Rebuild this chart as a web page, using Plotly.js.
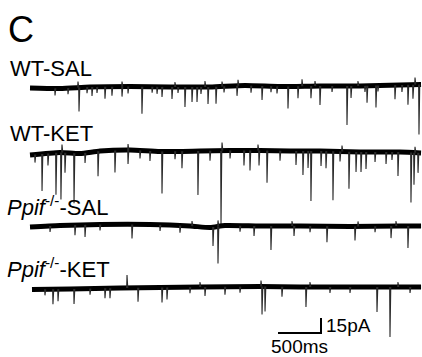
<!DOCTYPE html>
<html><head><meta charset="utf-8">
<script src="https://cdn.plot.ly/plotly-3.0.1.min.js"></script>
<style>html,body{margin:0;padding:0;background:#fff}#c{width:422px;height:357px}</style>
</head><body><div id="c"></div>
<script>
// ---- DATA ----
const panelLabel = "C";
const traceLabels = ["WT-SAL", "WT-KET", "<i>Ppif</i><sup>-/-</sup>-SAL", "<i>Ppif</i><sup>-/-</sup>-KET"];

// slow baseline drift knots: time (ms) and current (pA, + = up)
const wtSal_driftT  = [0, 349, 698, 1163, 1628, 2093, 2500, 2907, 3372, 3837, 4302, 4547];
const wtSal_driftI  = [0, -0.5, 1, 1.5, 1, 1, 2.5, 1.5, 2, 2, 3, 3.5];
const wtKet_driftT  = [0, 349, 581, 814, 1163, 1512, 1977, 2326, 2674, 3023, 3372, 3837, 4302, 4547];
const wtKet_driftI  = [-2, 0.5, -0.5, 2, 3, 1.5, 2, 2.5, 2.5, 2, 2, 1, 1, 0];
const koSal_driftT  = [0, 349, 814, 1395, 1860, 2093, 2267, 2674, 3140, 3721, 4302, 4547];
const koSal_driftI  = [-1, 0.5, 1.5, 1.5, 0, -1.5, 0.5, 0, 0, -0.5, 0, 0];
const koKet_driftT  = [23, 465, 1047, 1512, 1977, 2674, 3140, 3721, 4302, 4547];
const koKet_driftI  = [-1.5, -1, 0, 0.5, 1, 1.5, 1, 1, 1, 1];

// synaptic events: time (ms) and amplitude (pA, inward = positive, negative = upward deflection)
const wtSal_evT = [291, 442, 570, 663, 721, 779, 872, 953, 1070, 1140, 1302, 1420, 1477, 1535, 1651, 1721, 1802, 1884, 1942, 1988, 2070, 2163, 2256, 2407, 2570, 2698, 2802, 2872, 3000, 3116, 3267, 3372, 3512, 3686, 3733, 3895, 3919, 4023, 4046, 4244, 4325, 4395, 4453, 4523,
                   558, 1070, 1686, 2035, 2233, 2419, 3163, 3314, 3814, 4477];
const wtSal_evA = [7, 6, 24, 6, 9, 6, 12, 9, 10, 7, 27, 6, 7, 10, 12, 6, 20, 15, 15, 7, 17, 17, 6, 10, 7, 14, 6, 7, 22, 12, 12, 19, 6, 39, 12, 6, 17, 22, 6, 14, 7, 20, 14, 50,
                   -6, -5, -5, -6, -5, -6, -7, -5, -5, -7];

const wtKet_evT = [58, 140, 209, 302, 360, 407, 512, 640, 791, 988, 1140, 1279, 1395, 1535, 1686, 1767, 1953, 2093, 2221, 2326, 2488, 2558, 2663, 2756, 2907, 3093, 3174, 3233, 3267, 3384, 3442, 3523, 3605, 3709, 3791, 3849, 3907, 4012, 4140, 4209, 4279, 4430, 4465, 4512,
                   372, 1140, 2233, 2651, 3628, 4477];
const wtKet_evA = [8, 37, 12, 42, 47, 20, 50, 10, 25, 22, 14, 8, 10, 42, 8, 17, 44, 10, 75, 8, 15, 20, 15, 32, 10, 14, 24, 17, 50, 15, 17, 49, 10, 37, 20, 20, 17, 10, 12, 8, 24, 50, 32, 20,
                   -8, -6, -8, -6, -6, -6];

const koSal_evT = [233, 523, 640, 814, 1186, 1512, 1744, 2128, 2186, 2442, 2605, 2802, 3070, 3256, 3453, 3779, 4012, 4198, 4395,
                   1884, 2186, 3047, 3814, 4256];
const koSal_evA = [6, 10, 12, 6, 14, 6, 7, 19, 37, 6, 10, 24, 10, 6, 16, 14, 6, 12, 22,
                   -5, -6, -5, -5, -5];

const koKet_evT = [174, 267, 326, 512, 698, 872, 930, 1128, 1256, 1535, 1593, 1860, 2035, 2267, 2442, 2686, 2698, 2733, 2930, 3209, 3488, 3721, 4035, 4186, 4419,
                   1977, 3256, 4279];
const koKet_evA = [6, 15, 12, 15, 6, 10, 10, -13, 14, 15, 12, 6, 9, 8, 6, -6, 28, 25, 10, 20, 6, 6, 25, 50, 6,
                   -5, -5, -5];

// scale bar values
const scaleBarTime = 500;   // ms
const scaleBarCurrent = 15; // pA
const scaleBarTexts = ["15pA", "500ms"];

// ---- LAYOUT CONSTANTS ----
const W = 422, H = 357;
const msPerPx = 500 / 43;
const x0px = 30;
const pxToMs = px => (px - x0px) * msPerPx;
const offsets = [-88, -153, -226, -288];   // vertical position of each trace (pA frame)
const font = "Liberation Sans, Arial, Helvetica, sans-serif";

const sets = [
  [wtSal_driftT, wtSal_driftI, wtSal_evT, wtSal_evA],
  [wtKet_driftT, wtKet_driftI, wtKet_evT, wtKet_evA],
  [koSal_driftT, koSal_driftI, koSal_evT, koSal_evA],
  [koKet_driftT, koKet_driftI, koKet_evT, koKet_evA]
];

function interp(ts, vs, t) {
  if (t <= ts[0]) return vs[0];
  for (let i = 1; i < ts.length; i++) {
    if (t <= ts[i]) { const f = (t - ts[i-1]) / (ts[i] - ts[i-1]); return vs[i-1] + f * (vs[i] - vs[i-1]); }
  }
  return vs[vs.length - 1];
}

const data = [];
sets.forEach((s, k) => {
  const [dt, di, et, ea] = s;
  const off = offsets[k];
  data.push({x: dt, y: di.map(v => v + off), mode: "lines", line: {color: "#000", width: 5, shape: "spline", smoothing: 0.6}, hoverinfo: "skip"});
  const sx = [], sy = [];
  et.forEach((t, i) => {
    const b = interp(dt, di, t) + off;
    sx.push(t - 4, t, t + 9, null);
    sy.push(b, b - ea[i], b, null);
  });
  data.push({x: sx, y: sy, mode: "lines", line: {color: "#2a2a2a", width: 1.1}, hoverinfo: "skip", connectgaps: false});
});

// scale bar
const sbX = pxToMs(278), sbY = -333;
data.push({x: [sbX, sbX + scaleBarTime, sbX + scaleBarTime], y: [sbY, sbY, sbY + scaleBarCurrent],
  mode: "lines", line: {color: "#000", width: 2}, hoverinfo: "skip"});

const ann = (text, px, py, size) => ({text, x: px / W, y: 1 - py / H, xref: "paper", yref: "paper",
  xanchor: "left", yanchor: "middle", showarrow: false, font: {family: font, size, color: "#000"}});

const annotations = [
  ann(panelLabel, 6, 29, 36),
  ann(traceLabels[0], 8, 68, 22),
  ann(traceLabels[1], 8, 133, 22),
  ann(traceLabels[2], 5, 206, 22),
  ann(traceLabels[3], 5, 268, 22),
  ann(scaleBarTexts[0], 324, 325, 19),
  ann(scaleBarTexts[1], 269, 346, 19)
];

Plotly.newPlot("c", data, {
  width: W, height: H, margin: {l: 0, r: 0, t: 0, b: 0},
  paper_bgcolor: "#fff", plot_bgcolor: "#fff", showlegend: false,
  xaxis: {range: [pxToMs(0), pxToMs(W)], visible: false, fixedrange: true},
  yaxis: {range: [-H, 0], visible: false, fixedrange: true},
  annotations
}, {staticPlot: true, displayModeBar: false});
</script></body></html>
